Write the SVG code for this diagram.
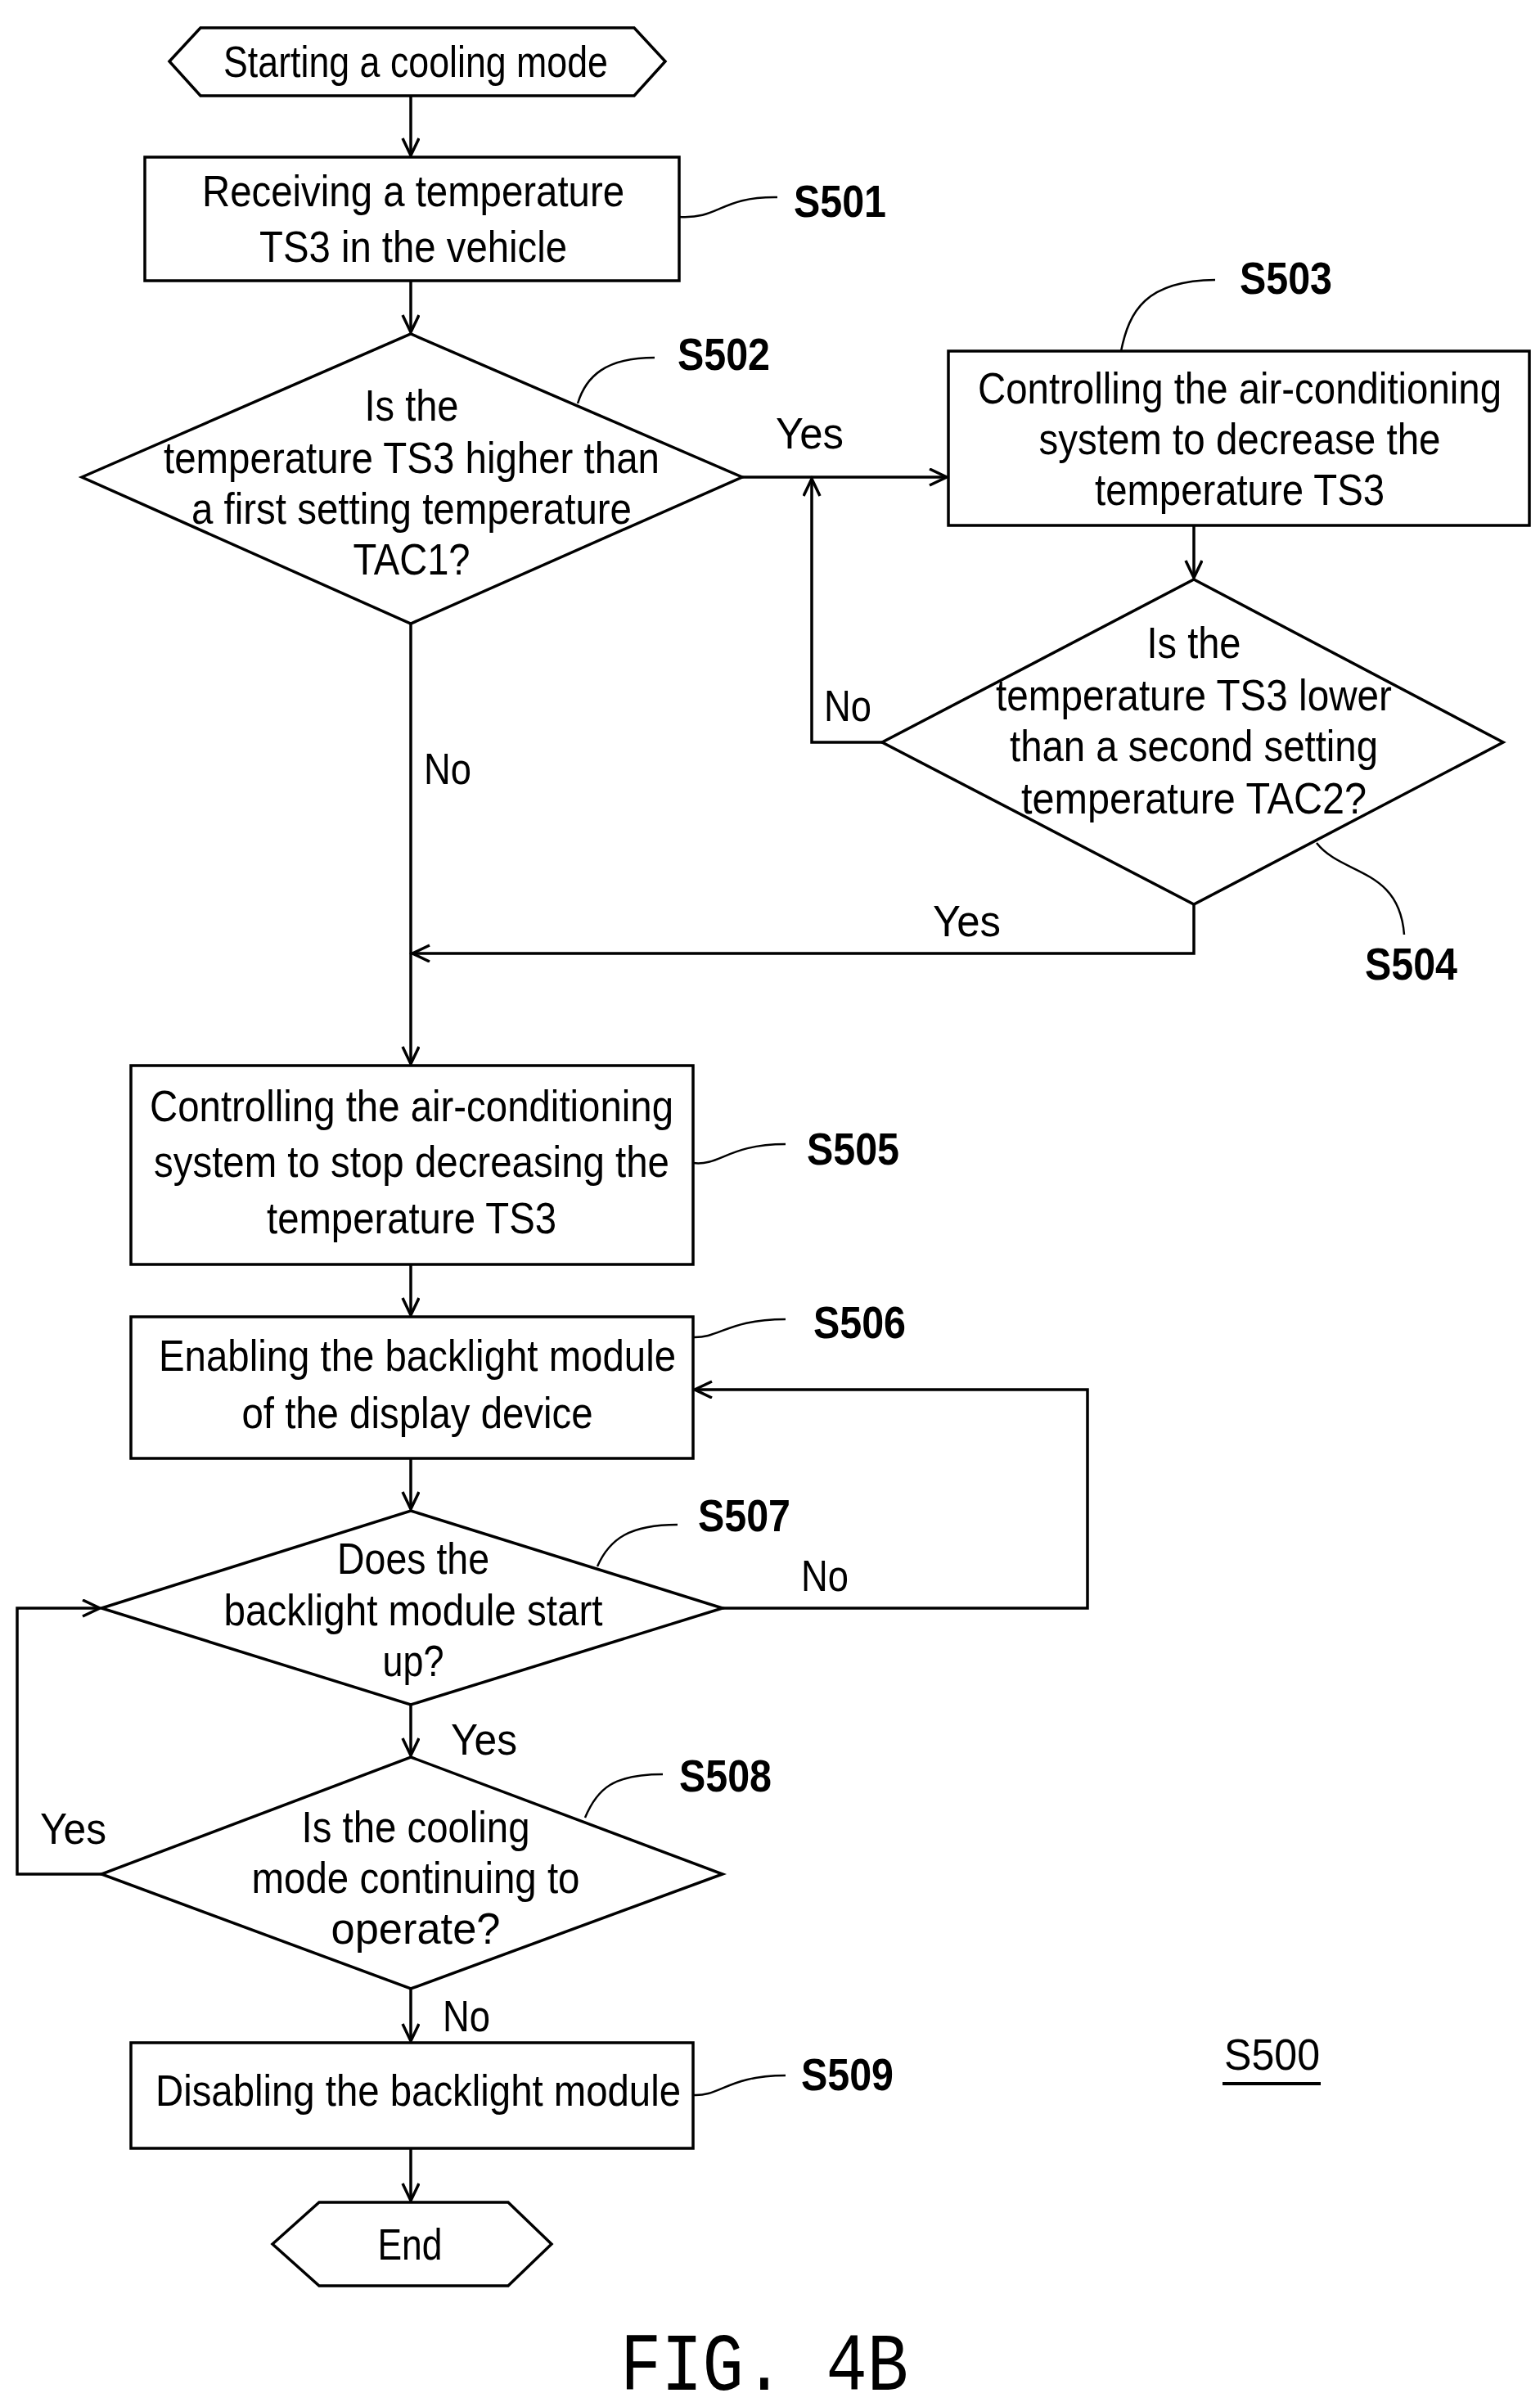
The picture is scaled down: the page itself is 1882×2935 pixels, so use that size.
<svg xmlns="http://www.w3.org/2000/svg" width="1882" height="2935" viewBox="0 0 1882 2935">
<style>
.s{fill:#fff;stroke:#000;stroke-width:3.5}
.c{fill:none;stroke:#000;stroke-width:3.5}
.q{fill:none;stroke:#000;stroke-width:2.5}
text{font-family:"Liberation Sans",Arial,sans-serif;font-size:54px;fill:#000}
.m{text-anchor:middle}
.b{font-weight:bold;font-size:56px}
</style>
<defs>
<marker id="a" markerUnits="userSpaceOnUse" markerWidth="40" markerHeight="40" refX="22" refY="11" orient="auto">
<path d="M1,1 L22,11 L1,21" fill="none" stroke="#000" stroke-width="3.5"/>
</marker>
</defs>
<rect width="1882" height="2935" fill="#fff"/>
<g id="connectors">
<path class="c" d="M502,117 V190" marker-end="url(#a)"/>
<path class="c" d="M502,343 V406" marker-end="url(#a)"/>
<path class="c" d="M907,583 H1157" marker-end="url(#a)"/>
<path class="c" d="M1459,642 V706" marker-end="url(#a)"/>
<path class="c" d="M1078,907 H992 V585" marker-end="url(#a)"/>
<path class="c" d="M1459,1105 V1165 H504" marker-end="url(#a)"/>
<path class="c" d="M502,762 V1300" marker-end="url(#a)"/>
<path class="c" d="M502,1545 V1607" marker-end="url(#a)"/>
<path class="c" d="M502,1782 V1844" marker-end="url(#a)"/>
<path class="c" d="M883,1965 H1329 V1698 H849" marker-end="url(#a)"/>
<path class="c" d="M502,2083 V2145" marker-end="url(#a)"/>
<path class="c" d="M124,2290 H21 V1965 H122" marker-end="url(#a)"/>
<path class="c" d="M502,2430 V2494" marker-end="url(#a)"/>
<path class="c" d="M502,2625 V2689" marker-end="url(#a)"/>
<text x="948" y="548" textLength="83" lengthAdjust="spacingAndGlyphs">Yes</text>
<text x="1007" y="881" textLength="58" lengthAdjust="spacingAndGlyphs">No</text>
<text x="1140" y="1144" textLength="83" lengthAdjust="spacingAndGlyphs">Yes</text>
<text x="518" y="958" textLength="58" lengthAdjust="spacingAndGlyphs">No</text>
<text x="979" y="1944" textLength="58" lengthAdjust="spacingAndGlyphs">No</text>
<text x="551" y="2144" textLength="81" lengthAdjust="spacingAndGlyphs">Yes</text>
<text x="49" y="2253" textLength="81" lengthAdjust="spacingAndGlyphs">Yes</text>
<text x="541" y="2482" textLength="58" lengthAdjust="spacingAndGlyphs">No</text>
</g>
<g id="start">
<polygon class="s" points="207,75 245,34 775,34 813,75 775,117 245,117"/>
<text class="m" x="508" y="94" textLength="470" lengthAdjust="spacingAndGlyphs">Starting a cooling mode</text>
</g>
<g id="S501">
<rect class="s" x="177" y="192" width="653" height="151"/>
<text class="m" x="505" y="252" textLength="516" lengthAdjust="spacingAndGlyphs">Receiving a temperature</text>
<text class="m" x="505" y="320" textLength="376" lengthAdjust="spacingAndGlyphs">TS3 in the vehicle</text>
<path class="q" d="M830,265 C880,268 880,240 950,241"/>
<text class="b" x="970" y="265" textLength="113" lengthAdjust="spacingAndGlyphs">S501</text>
</g>
<g id="S502">
<polygon class="s" points="100,583 502,408 907,583 502,762"/>
<text class="m" x="503" y="514" textLength="115" lengthAdjust="spacingAndGlyphs">Is the</text>
<text class="m" x="503" y="578" textLength="606" lengthAdjust="spacingAndGlyphs">temperature TS3 higher than</text>
<text class="m" x="503" y="640" textLength="538" lengthAdjust="spacingAndGlyphs">a first setting temperature</text>
<text class="m" x="503" y="702" textLength="143" lengthAdjust="spacingAndGlyphs">TAC1?</text>
<path class="q" d="M706,493 C716,460 740,437 800,437"/>
<text class="b" x="828" y="452" textLength="113" lengthAdjust="spacingAndGlyphs">S502</text>
</g>
<g id="S503">
<rect class="s" x="1159" y="429" width="710" height="213"/>
<text class="m" x="1515" y="493" textLength="640" lengthAdjust="spacingAndGlyphs">Controlling the air-conditioning</text>
<text class="m" x="1515" y="555" textLength="491" lengthAdjust="spacingAndGlyphs">system to decrease the</text>
<text class="m" x="1515" y="617" textLength="354" lengthAdjust="spacingAndGlyphs">temperature TS3</text>
<path class="q" d="M1370,429 C1380,380 1400,343 1485,342"/>
<text class="b" x="1515" y="359" textLength="113" lengthAdjust="spacingAndGlyphs">S503</text>
</g>
<g id="S504">
<polygon class="s" points="1459,708 1837,907 1459,1105 1078,907"/>
<text class="m" x="1459" y="804" textLength="115" lengthAdjust="spacingAndGlyphs">Is the</text>
<text class="m" x="1459" y="868" textLength="484" lengthAdjust="spacingAndGlyphs">temperature TS3 lower</text>
<text class="m" x="1459" y="930" textLength="450" lengthAdjust="spacingAndGlyphs">than a second setting</text>
<text class="m" x="1459" y="994" textLength="422" lengthAdjust="spacingAndGlyphs">temperature TAC2?</text>
<path class="q" d="M1609,1030 C1640,1070 1710,1060 1716,1142"/>
<text class="b" x="1668" y="1197" textLength="113" lengthAdjust="spacingAndGlyphs">S504</text>
</g>
<g id="S505">
<rect class="s" x="160" y="1302" width="687" height="243"/>
<text class="m" x="503" y="1370" textLength="640" lengthAdjust="spacingAndGlyphs">Controlling the air-conditioning</text>
<text class="m" x="503" y="1438" textLength="630" lengthAdjust="spacingAndGlyphs">system to stop decreasing the</text>
<text class="m" x="503" y="1507" textLength="354" lengthAdjust="spacingAndGlyphs">temperature TS3</text>
<path class="q" d="M847,1421 C880,1425 890,1398 960,1398"/>
<text class="b" x="986" y="1423" textLength="113" lengthAdjust="spacingAndGlyphs">S505</text>
</g>
<g id="S506">
<rect class="s" x="160" y="1609" width="687" height="173"/>
<text class="m" x="510" y="1675" textLength="632" lengthAdjust="spacingAndGlyphs">Enabling the backlight module</text>
<text class="m" x="510" y="1745" textLength="429" lengthAdjust="spacingAndGlyphs">of the display device</text>
<path class="q" d="M847,1634 C880,1635 890,1612 960,1612"/>
<text class="b" x="994" y="1635" textLength="113" lengthAdjust="spacingAndGlyphs">S506</text>
</g>
<g id="S507">
<polygon class="s" points="502,1846 883,1965 502,2083 124,1965"/>
<text class="m" x="505" y="1923" textLength="186" lengthAdjust="spacingAndGlyphs">Does the</text>
<text class="m" x="505" y="1986" textLength="463" lengthAdjust="spacingAndGlyphs">backlight module start</text>
<text class="m" x="505" y="2048" textLength="75" lengthAdjust="spacingAndGlyphs">up?</text>
<path class="q" d="M730,1914 C745,1880 770,1863 828,1863"/>
<text class="b" x="853" y="1871" textLength="113" lengthAdjust="spacingAndGlyphs">S507</text>
</g>
<g id="S508">
<polygon class="s" points="502,2147 883,2290 502,2430 124,2290"/>
<text class="m" x="508" y="2251" textLength="279" lengthAdjust="spacingAndGlyphs">Is the cooling</text>
<text class="m" x="508" y="2313" textLength="401" lengthAdjust="spacingAndGlyphs">mode continuing to</text>
<text class="m" x="508" y="2375" textLength="207" lengthAdjust="spacingAndGlyphs">operate?</text>
<path class="q" d="M715,2221 C730,2185 750,2168 810,2168"/>
<text class="b" x="830" y="2189" textLength="113" lengthAdjust="spacingAndGlyphs">S508</text>
</g>
<g id="S509">
<rect class="s" x="160" y="2496" width="687" height="129"/>
<text class="m" x="511" y="2573" textLength="642" lengthAdjust="spacingAndGlyphs">Disabling the backlight module</text>
<path class="q" d="M847,2560 C880,2562 890,2536 960,2536"/>
<text class="b" x="979" y="2554" textLength="113" lengthAdjust="spacingAndGlyphs">S509</text>
</g>
<g id="end">
<polygon class="s" points="333,2742 390,2691 621,2691 674,2742 621,2793 390,2793"/>
<text class="m" x="501" y="2761" textLength="79" lengthAdjust="spacingAndGlyphs">End</text>
</g>
<g id="label">
<text x="1496" y="2529" textLength="117" lengthAdjust="spacingAndGlyphs">S500</text>
<line x1="1494" y1="2546" x2="1614" y2="2546" stroke="#000" stroke-width="4"/>
<text x="758" y="2920" style="font-family:'Liberation Mono',monospace;font-size:100px" textLength="352" lengthAdjust="spacingAndGlyphs">FIG. 4B</text>
</g>
</svg>
